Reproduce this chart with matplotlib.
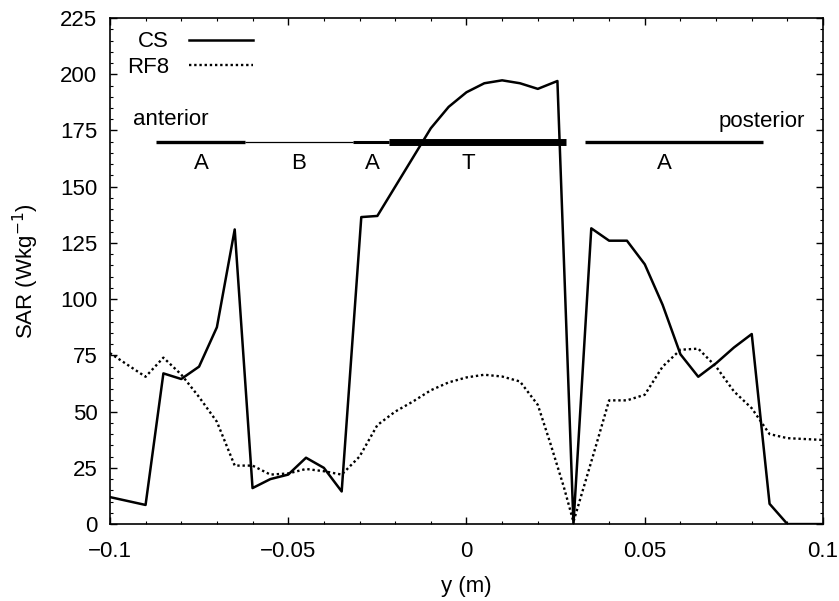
import matplotlib
matplotlib.use("Agg")
import matplotlib.pyplot as plt
from matplotlib.ticker import MultipleLocator

plt.rcParams['font.family'] = ['Liberation Sans', 'DejaVu Sans']
FS = 16

# CS curve
cs_y = [-0.1, -0.09, -0.085, -0.08, -0.075, -0.07, -0.065, -0.06, -0.055, -0.05,
        -0.045, -0.04, -0.035, -0.0295, -0.025, -0.02, -0.015, -0.01, -0.005, 0.0,
        0.005, 0.01, 0.015, 0.02, 0.0255, 0.03, 0.035, 0.04, 0.045, 0.05,
        0.055, 0.06, 0.065, 0.07, 0.075, 0.08, 0.085, 0.09, 0.1]
cs_sar = [12, 8.5, 67, 64.5, 70, 87.5, 131, 16, 20, 22,
          29.5, 25, 14.5, 136.5, 137, 150, 163, 176, 185.5, 192,
          196, 197.3, 196, 193.5, 197, 0, 131.5, 126, 126, 115.5,
          97.5, 75.5, 65.5, 71.5, 78.5, 84.5, 9, 0, 0]

# RF8 curve
rf_y = [-0.1, -0.09, -0.085, -0.08, -0.075, -0.07, -0.065, -0.06, -0.055, -0.05,
        -0.045, -0.04, -0.035, -0.03, -0.025, -0.02, -0.015, -0.01, -0.005, 0.0,
        0.005, 0.01, 0.015, 0.02, 0.0235, 0.0273, 0.03, 0.0357, 0.04, 0.045,
        0.05, 0.055, 0.06, 0.065, 0.07, 0.075, 0.08, 0.085, 0.09, 0.1]
rf_sar = [76, 65.5, 74, 66.5, 56.5, 45.5, 26, 26, 22, 22.5,
          24.5, 23.5, 22, 30, 44, 50, 54.5, 59.5, 63, 65.2,
          66.4, 65.6, 63.4, 53, 36, 16.5, 1, 31.5, 55, 55,
          57.5, 70, 77.5, 78, 70, 59, 51.5, 40, 38.2, 37.4]

# tissue segments drawn at SAR = 170
seg_start = [-0.087, -0.062, -0.0318, -0.0218, 0.0331]
seg_end = [-0.062, -0.0318, -0.0218, 0.028, 0.0831]
seg_width = [2.4, 0.9, 2.2, 5.0, 2.4]
seg_labels = ['A', 'B', 'A', 'T', 'A']
seg_label_x = [-0.0744, -0.047, -0.0265, 0.0004, 0.0556]

fig = plt.figure(figsize=(8.39, 6.01), dpi=100)
ax = fig.add_axes([0.131, 0.128, 0.850, 0.842])

ax.plot(cs_y, cs_sar, color='black', lw=1.8, label='CS')
ax.plot(rf_y, rf_sar, color='black', lw=1.7, linestyle=(0, (1, 1.2)), label='RF8')

for x0, x1, w in zip(seg_start, seg_end, seg_width):
    ax.plot([x0, x1], [170, 170], color='black', lw=w, solid_capstyle='butt')
for lab, lx in zip(seg_labels, seg_label_x):
    ax.text(lx, 160.5, lab, ha='center', va='center', fontsize=FS)
ax.text(-0.083, 180, 'anterior', ha='center', va='center', fontsize=FS)
ax.text(0.0829, 179, 'posterior', ha='center', va='center', fontsize=FS)

ax.set_xlim(-0.1, 0.1)
ax.set_ylim(0, 225)
ax.set_xticks([-0.1, -0.05, 0, 0.05, 0.1])
ax.set_xticklabels(['\u22120.1', '\u22120.05', '0', '0.05', '0.1'])
ax.xaxis.set_minor_locator(MultipleLocator(0.01))
ax.yaxis.set_major_locator(MultipleLocator(25))
ax.yaxis.set_minor_locator(MultipleLocator(5))
ax.tick_params(which='both', direction='in', top=True, right=True, labelsize=FS)
ax.tick_params(which='major', length=5, width=1)
ax.tick_params(which='minor', length=2.5, width=0.8)
ax.tick_params(axis='x', pad=12)
ax.tick_params(axis='y', pad=9)
for s in ax.spines.values():
    s.set_linewidth(1.2)

ax.set_xlabel('y (m)', fontsize=FS, labelpad=10)
ax.set_ylabel('SAR (Wkg$^{-1}$)', fontsize=FS, labelpad=14)

ax.legend(loc='upper left', frameon=False, fontsize=FS, markerfirst=False,
          handlelength=2.9, handletextpad=0.9, labelspacing=0.2,
          borderaxespad=0.2, bbox_to_anchor=(0.005, 1.0))

fig.savefig('out.png', dpi=100)
